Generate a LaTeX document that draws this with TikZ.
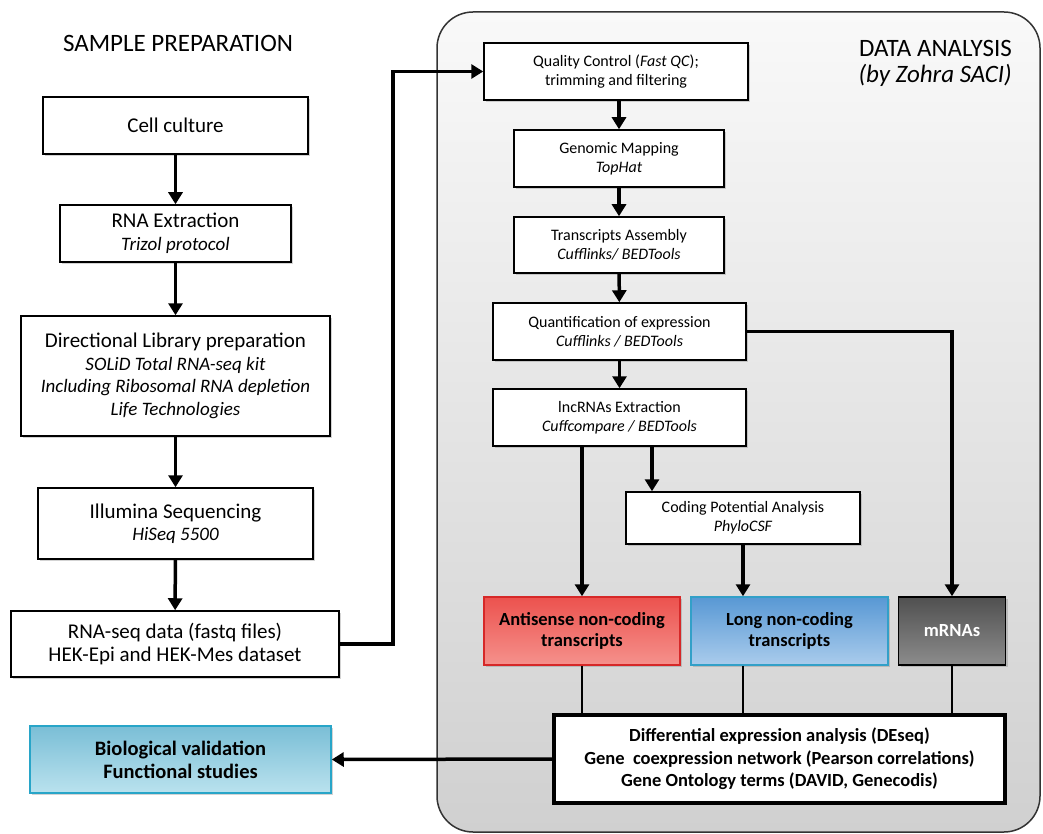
\documentclass[tikz,border=0pt]{standalone}
\usepackage{fontspec}
\setmainfont{Carlito}
\usetikzlibrary{arrows.meta,shadows}

\definecolor{panelTop}{RGB}{249,249,249}
\definecolor{panelBot}{RGB}{208,208,208}
\definecolor{antiTop}{RGB}{236,82,78}
\definecolor{antiBot}{RGB}{245,145,140}
\definecolor{antiLine}{RGB}{214,40,40}
\definecolor{longTop}{RGB}{88,152,212}
\definecolor{longBot}{RGB}{170,204,236}
\definecolor{longLine}{RGB}{50,160,200}
\definecolor{mrnaTop}{RGB}{80,80,80}
\definecolor{mrnaBot}{RGB}{140,140,140}
\definecolor{bioTop}{RGB}{122,190,214}
\definecolor{bioBot}{RGB}{186,226,238}
\definecolor{bioLine}{RGB}{40,165,200}

% italic tool line in the left column
\newcommand{\leftTool}[1]{{\fontsize{19}{22.5}\selectfont\itshape #1}}

\begin{document}
\begin{tikzpicture}[x=1pt,y=-1pt,
  box/.style={draw, line width=1.5pt, fill=white, align=center, inner sep=2pt,
    drop shadow={shadow xshift=2pt,shadow yshift=-2pt,opacity=0.35}},
  leftbox/.style={box, font=\fontsize{21}{22.5}\selectfont},
  databox/.style={box, font=\fontsize{16}{19}\selectfont},
  result/.style={box, font=\bfseries\fontsize{18.5}{20.5}\selectfont},
  title/.style={font=\fontsize{25}{27}\selectfont, inner sep=0pt},
  arr/.style={line width=3.5pt, -{Triangle[length=12pt,width=14pt]}},
  link/.style={line width=2.5pt}
]
\useasboundingbox (0,0) rectangle (1043,834);

%Shape: Rounded Rect [id:panel]
\draw [line width=1.5pt, draw=black!80, rounded corners=36pt, top color=panelTop, bottom color=panelBot] (437,12) rectangle (1040,832);

% Text Node
\node (sampleTitle) [title] at (178,43) {SAMPLE PREPARATION};
% Text Node
\node (dataTitle) [title, anchor=east] at (1012,48) {DATA ANALYSIS};
% Text Node
\node (dataAuthor) [title, anchor=east, font=\fontsize{25}{27}\selectfont\itshape] at (1012,75) {(by Zohra SACI)};

%Shape: Rectangle -- sample preparation
\node (cell)  [leftbox, minimum width=265, minimum height=57] at (175.5,125.5) {Cell culture};
\node (rnaEx) [leftbox, minimum width=231, minimum height=57] at (175.5,233.5) {RNA Extraction\\ \leftTool{Trizol protocol}};
\node (lib)   [leftbox, minimum width=309, minimum height=120] at (175.5,376) {Directional Library preparation\\ \leftTool{SOLiD Total RNA-seq kit}\\ \leftTool{Including Ribosomal RNA depletion}\\ \leftTool{Life Technologies}};
\node (illum) [leftbox, minimum width=275, minimum height=71] at (175.5,523.5) {Illumina Sequencing\\ \leftTool{HiSeq 5500}};
\node (seq)   [leftbox, minimum width=328, minimum height=66] at (175,644) {RNA-seq data (fastq files)\\ HEK-Epi and HEK-Mes dataset};
\node (bio)   [result, minimum width=301, minimum height=67, draw=bioLine, top color=bioTop, bottom color=bioBot, font=\bfseries\fontsize{20.5}{23}\selectfont] at (180.5,759.5) {Biological validation\\ Functional studies};

%Shape: Rectangle -- data analysis
\node (qc)    [databox, minimum width=264, minimum height=57] at (616,71.5) {Quality Control (\textit{Fast QC});\\ trimming and filtering};
\node (map)   [databox, minimum width=210, minimum height=57] at (619,158.5) {Genomic Mapping\\ \itshape TopHat};
\node (asm)   [databox, minimum width=210, minimum height=56] at (619,245) {Transcripts Assembly\\ \itshape Cufflinks/ BEDTools};
\node (quant) [databox, minimum width=253, minimum height=57] at (619.5,331.5) {Quantification of expression\\ \itshape Cufflinks / BEDTools};
\node (lnc)   [databox, minimum width=253, minimum height=57] at (619.5,417.5) {lncRNAs Extraction\\ \itshape Cuffcompare / BEDTools};
\node (cpa)   [databox, minimum width=234, minimum height=52] at (743,518) {Coding Potential Analysis\\ \itshape PhyloCSF};
\node (anti)  [result, minimum width=196, minimum height=68, draw=antiLine, top color=antiTop, bottom color=antiBot] at (582,631) {Antisense non-coding\\ transcripts};
\node (long)  [result, minimum width=197, minimum height=68, draw=longLine, top color=longTop, bottom color=longBot] at (789.5,631) {Long non-coding\\ transcripts};
\node (mrna)  [result, minimum width=107, minimum height=68, draw=black, top color=mrnaTop, bottom color=mrnaBot, text=white] at (952,631) {mRNAs};
\node (de)    [result, line width=3.5pt, minimum width=451, minimum height=88, font=\bfseries\fontsize{18.5}{22.5}\selectfont] at (779.5,759) {Differential expression analysis (DEseq)\\ Gene\ \ coexpression network (Pearson correlations)\\ Gene Ontology terms (DAVID, Genecodis)};

\coordinate (turn) at (393,0);
\coordinate (split) at (652,0);

%Straight Lines -- left column
\draw [arr] (cell) -- (rnaEx);
\draw [arr] (rnaEx) -- (lib);
\draw [arr] (lib) -- (illum);
\draw [arr] (illum) -- (seq);
\draw [arr] (seq.east) -- (seq.east -| turn) |- (qc.west);

%Straight Lines -- right column
\draw [arr] (qc.south -| map.north) -- (map.north);
\draw [arr] (map) -- (asm);
\draw [arr] (asm) -- (quant);
\draw [arr] (quant) -- (lnc);
\draw [arr] (quant.east) -| (mrna.north);
\draw [arr] (lnc.south -| anti.north) -- (anti.north);
\draw [arr] (lnc.south -| split) -- (cpa.north -| split);
\draw [arr] (cpa.south) -- (cpa.south |- long.north);

%Straight Lines -- into results
\draw [link] (anti.south) -- (anti.south |- de.north);
\draw [link] (long.south -| cpa.south) -- (de.north -| cpa.south);
\draw [link] (mrna.south) -- (mrna.south |- de.north);
\draw [arr] (de.west) -- (bio.east);

\end{tikzpicture}
\end{document}
